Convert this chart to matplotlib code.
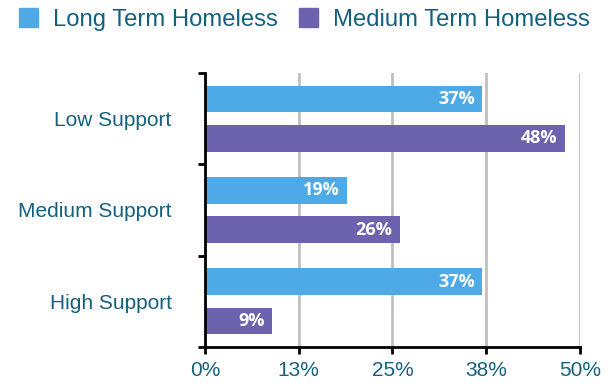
import matplotlib.pyplot as plt
from matplotlib.patches import Patch
from matplotlib.ticker import FixedLocator

# ===== data =====
categories = ["Low Support", "Medium Support", "High Support"]
long_term = [37, 19, 37]
medium_term = [48, 26, 9]
series_names = ["Long Term Homeless", "Medium Term Homeless"]
x_ticks = [0, 12.5, 25, 37.5, 50]
x_tick_labels = ["0%", "13%", "25%", "38%", "50%"]

BLUE = "#4eaae6"
PURPLE = "#6c62ae"
TEAL = "#13607f"

plt.rcParams["font.family"] = ["Liberation Sans", "DejaVu Sans"]

fig = plt.figure(figsize=(6.11, 3.9), dpi=100)
ax = fig.add_axes([0.3355, 0.1103, 0.6137, 0.7025])

ypos = list(range(len(categories)))
h = 0.29
off = 0.215
b1 = ax.barh([y - off for y in ypos], long_term, height=h, color=BLUE, zorder=3)
b2 = ax.barh([y + off for y in ypos], medium_term, height=h, color=PURPLE, zorder=3)

# value labels at bar ends
for bars, vals in ((b1, long_term), (b2, medium_term)):
    for bar, v in zip(bars, vals):
        ax.text(v - 1.0, bar.get_y() + bar.get_height() / 2, f"{v}%",
                ha="right", va="center", color="white", fontsize=13,
                fontweight="bold", family=["Open Sans", "DejaVu Sans"], zorder=4)

ax.set_xlim(0, 50)
ax.set_ylim(2.5, -0.5)

ax.set_xticks(x_ticks)
ax.set_xticklabels(x_tick_labels, color=TEAL, fontsize=15)
ax.set_yticks(ypos)
ax.set_yticklabels(categories, color=TEAL, fontsize=15)
ax.tick_params(axis="y", which="major", length=0, pad=24)
ax.yaxis.set_minor_locator(FixedLocator([-0.5, 0.5, 1.5, 2.5]))
ax.tick_params(axis="y", which="minor", length=5, width=2, color="black")
ax.tick_params(axis="x", which="major", length=5, width=2, color="black", pad=5)

ax.grid(axis="x", color="#c0c0c0", linewidth=2, zorder=0)
for s in ("top", "right"):
    ax.spines[s].set_visible(False)
for s in ("left", "bottom"):
    ax.spines[s].set_linewidth(2)
    ax.spines[s].set_color("black")
    ax.spines[s].set_zorder(5)

handles = [Patch(color=BLUE), Patch(color=PURPLE)]
leg = fig.legend(handles, series_names, loc="center left",
                 bbox_to_anchor=(19 / 611, 1 - 19.5 / 390),
                 ncol=2, frameon=False, fontsize=17.2, borderpad=0, borderaxespad=0,
                 handlelength=0.8, handleheight=0.8,
                 handletextpad=0.63, columnspacing=0.88)
for t in leg.get_texts():
    t.set_color(TEAL)

fig.savefig("out.png", dpi=100)
